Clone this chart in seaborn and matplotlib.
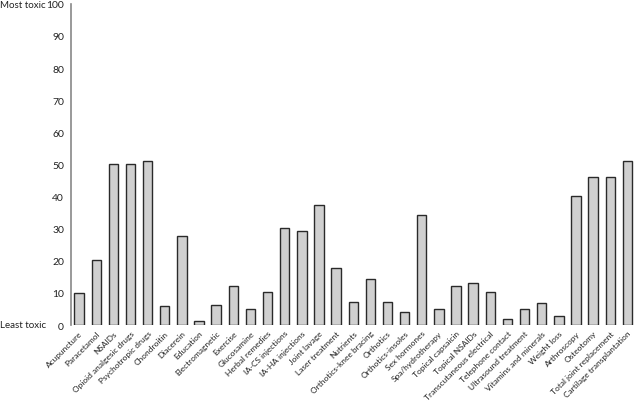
import matplotlib
matplotlib.use("Agg")
import matplotlib.pyplot as plt
import seaborn as sns
import pandas as pd

categories = ["Acupuncture", "Paracetamol", "NSAIDs", "Opioid analgesic drugs",
              "Psychotropic drugs", "Chondroitin", "Diacerein", "Education",
              "Electromagnetic", "Exercise", "Glucosamine", "Herbal remedies",
              "IA-CS injections", "IA-HA injections", "Joint lavage", "Laser treatment",
              "Nutrients", "Orthotics-knee bracing", "Orthotics", "Orthotics-insoles",
              "Sex hormones", "Spa/hydrotherapy", "Topical capsaicin", "Topical NSAIDs",
              "Transcutaneous electrical", "Telephone contact", "Ultrasound treatment",
              "Vitamins and minerals", "Weight loss", "Arthroscopy", "Osteotomy",
              "Total joint replacement", "Cartilage transplantation"]
values = [10.1, 20.3, 50.0, 50.0, 51.2, 6.0, 27.8, 1.1, 6.2, 12.2, 4.9, 10.2,
          30.1, 29.3, 37.4, 17.7, 7.1, 14.2, 7.1, 4.0, 34.2, 5.0, 12.1, 13.2,
          10.2, 1.8, 5.1, 6.9, 2.8, 40.3, 46.0, 46.0, 51.0]
yticks = [0, 10, 20, 30, 40, 50, 60, 70, 80, 90, 100]

df = pd.DataFrame({"treatment": categories, "score": values})

sns.set_theme(style="white")
plt.rcParams["font.family"] = ["Lato", "DejaVu Sans"]

fig = plt.figure(figsize=(6.4, 4.02), dpi=100)
ax = fig.add_axes([0.111, 0.189, 0.884, 0.799])

sns.barplot(data=df, x="treatment", y="score", order=categories,
            color="#d0d0d0", edgecolor="#2a2a2a", linewidth=1.0,
            width=0.55, saturation=1, ax=ax)

ax.set_ylim(0, 100)
ax.set_xlim(-0.47, 32.55)
ax.set_yticks(yticks)
ax.set_yticklabels([str(t) for t in yticks], fontsize=7.5, color="#222222")
ax.tick_params(axis="y", direction="in", length=6, width=1, color="#888888", pad=5)
ax.tick_params(axis="x", length=0, pad=3)
ax.set_xticks(range(len(categories)))
ax.set_xticklabels(categories, rotation=45, ha="right", rotation_mode="anchor",
                   fontsize=6.0, color="#222222")
ax.set_xlabel("")
ax.set_ylabel("")
for s in ["top", "right", "bottom"]:
    ax.spines[s].set_visible(False)
ax.spines["left"].set_color("#888888")
ax.spines["left"].set_linewidth(1.2)

fig.text(0.0, 1 - 5 / 402, "Most toxic", fontsize=7, va="center", ha="left", color="#222222")
fig.text(0.0, 1 - 326 / 402, "Least toxic", fontsize=7, va="center", ha="left", color="#222222")

fig.savefig("out.png", dpi=100)
